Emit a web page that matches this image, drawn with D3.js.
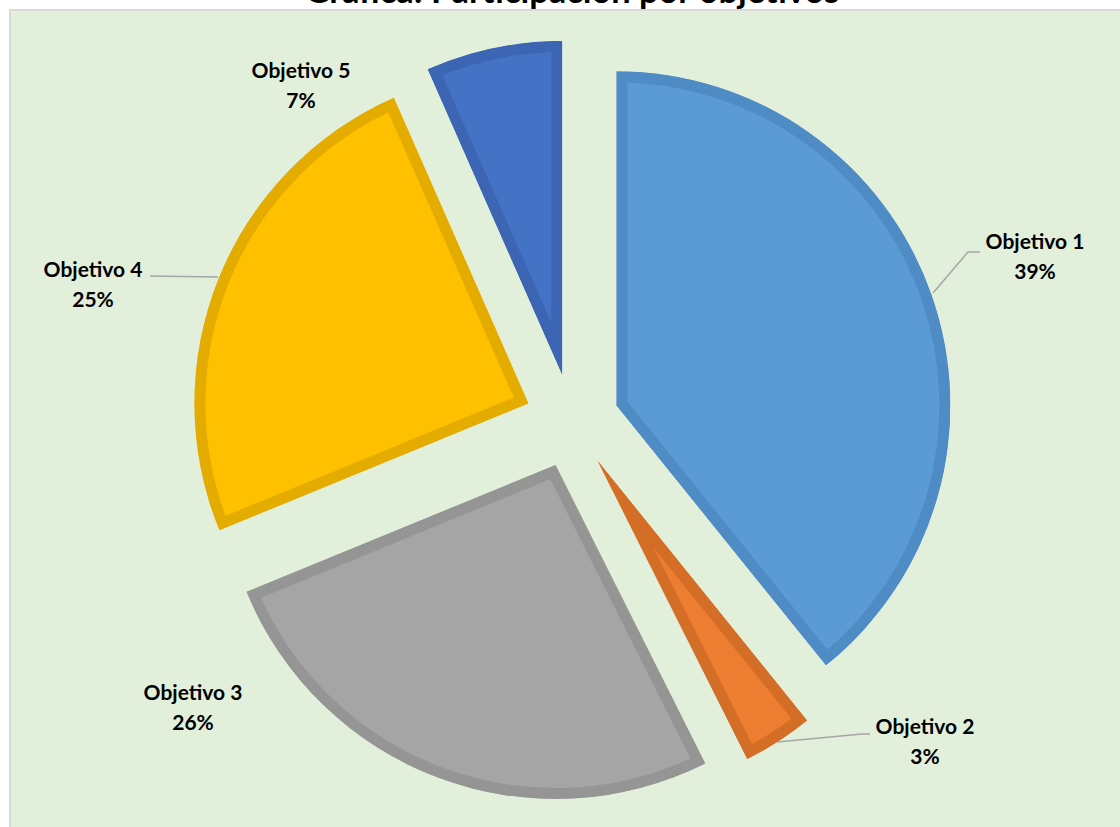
<!DOCTYPE html>
<html><head><meta charset="utf-8">
<script src="https://cdn.jsdelivr.net/npm/d3@7"></script>
<style>body{margin:0;background:#fff}svg{display:block}</style>
</head><body>
<script>
const categories = ["Objetivo 1","Objetivo 2","Objetivo 3","Objetivo 4","Objetivo 5"];
const values = [39.2, 3.4, 26.2, 24.6, 6.6];
const labels = ["39%","3%","26%","25%","7%"];
const fills = ["#5b9bd5","#ed7d31","#a5a5a5","#ffc000","#4472c4"];
const strokes = ["#4f8bc4","#d46d26","#959595","#e4ab00","#3c66b3"];
const title = "Gráfica: Participación por objetivos";
// label layout (text centre, leader polyline) – styling/positions only
const labelLayout = [
  {x:1035, y:242, leader:[[933,293],[968,252],[980,252]]},
  {x:925,  y:727, leader:[[777,742],[862,734],[870,734]]},
  {x:193,  y:693, leader:null},
  {x:93,   y:270, leader:[[218,277],[150,276]]},
  {x:301,  y:71,  leader:null}
];

const W=1120,H=827;
const svg=d3.select("body").append("svg").attr("width",W).attr("height",H);
const defs=svg.append("defs");
svg.append("rect").attr("x",10).attr("y",10).attr("width",W+20).attr("height",H+20)
  .attr("fill","#e2efda").attr("stroke","#d9d9d9").attr("stroke-width",2);

const tt=svg.append("text").attr("x",572).attr("y",3).attr("text-anchor","middle")
  .attr("font-family","Lato, 'Open Sans', sans-serif").attr("font-weight","bold")
  .attr("font-size",25).attr("fill","#000").text(title);
const tw=tt.node().getComputedTextLength();
tt.attr("font-size",25*535/tw);

const cx=572, cy=421, R=334, explode=47;
const pie=d3.pie().sort(null).value(d=>d)(values);
const arc=d3.arc().innerRadius(0).outerRadius(R);
const g=svg.append("g").attr("transform",`translate(${cx},${cy})`);
pie.forEach((d,i)=>{
  defs.append("clipPath").attr("id","clip"+i).append("path").attr("d",arc(d));
});
g.selectAll("path").data(pie).join("path")
  .attr("transform",d=>{const a=(d.startAngle+d.endAngle)/2;return `translate(${explode*Math.sin(a)},${-explode*Math.cos(a)})`;})
  .attr("d",arc)
  .attr("clip-path",(d,i)=>`url(#clip${i})`)
  .attr("fill",(d,i)=>fills[i]).attr("stroke",(d,i)=>strokes[i])
  .attr("stroke-width",22).attr("stroke-linejoin","miter");

labelLayout.forEach((L,i)=>{
  if(L.leader){
    svg.append("polyline").attr("points",L.leader.map(p=>p.join(",")).join(" "))
      .attr("fill","none").attr("stroke","#a6a6a6").attr("stroke-width",1.5);
  }
  const t=svg.append("text").attr("text-anchor","middle")
    .attr("font-family","Lato, 'Open Sans', sans-serif").attr("font-weight","bold")
    .attr("font-size",21).attr("fill","#000");
  t.append("tspan").attr("x",L.x).attr("y",L.y+7).text(categories[i]);
  t.append("tspan").attr("x",L.x).attr("y",L.y+37).text(labels[i]);
});
</script>
</body></html>
